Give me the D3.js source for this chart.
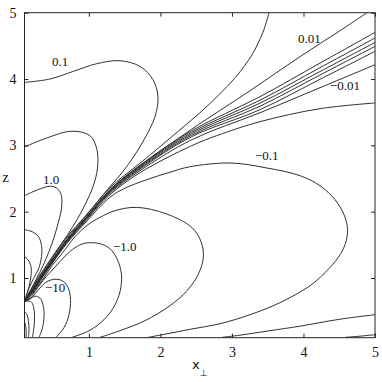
<!DOCTYPE html>
<html><head><meta charset="utf-8">
<script src="https://cdn.jsdelivr.net/npm/d3@7"></script>
<style>body{margin:0;background:#fff}svg{display:block}</style>
</head><body>
<svg id="chart" width="382" height="382"></svg>
<script>
// ---- data (x_perp, z) ----
const xTicks = [1, 2, 3, 4, 5];
const zTicks = [1, 2, 3, 4, 5];
const xDomain = [0.1, 5];
const zDomain = [0.1, 5];

// positive contours
const pos0p01 = [[0.1,0.647],[0.219,0.835],[0.359,1.065],[0.512,1.299],[0.69,1.57],[0.97,1.925],[1.295,2.332],[1.715,2.693],[2.438,3.244],[3.253,3.824],[3.952,4.337],[4.511,4.729],[4.889,5.0]];
const pos0p05 = [[0.1,0.647],[0.215,0.839],[0.354,1.073],[0.505,1.306],[0.68,1.578],[0.96,1.932],[1.281,2.347],[1.715,2.731],[1.994,2.98],[2.274,3.236],[2.554,3.492],[2.805,3.749],[3.057,4.035],[3.281,4.367],[3.435,4.71],[3.518,5.0]];
const pos0p1 = [[0.1,3.949],[0.456,4.0],[0.782,4.115],[1.109,4.231],[1.435,4.276],[1.715,4.19],[1.896,3.99],[1.966,3.738],[1.924,3.432],[1.771,3.085],[1.617,2.814],[1.463,2.588],[1.295,2.377],[0.96,1.947],[0.673,1.593],[0.498,1.317],[0.349,1.083],[0.21,0.845],[0.1,0.647]];
const pos0p3 = [[0.1,2.975],[0.41,3.111],[0.764,3.213],[1.016,3.146],[1.113,2.935],[1.121,2.663],[1.058,2.377],[0.96,2.136],[0.834,1.879],[0.694,1.638],[0.526,1.382],[0.366,1.126],[0.219,0.884],[0.1,0.647]];
const pos1 = [[0.1,2.241],[0.219,2.301],[0.345,2.354],[0.456,2.384],[0.54,2.362],[0.603,2.286],[0.624,2.166],[0.61,2.0],[0.568,1.819],[0.512,1.608],[0.442,1.397],[0.359,1.186],[0.261,0.975],[0.184,0.809],[0.1,0.647]];
const pos3 = [[0.1,1.729],[0.205,1.699],[0.296,1.623],[0.338,1.487],[0.338,1.322],[0.303,1.156],[0.226,0.99],[0.156,0.831],[0.1,0.647]];
const pos10 = [[0.1,1.32],[0.149,1.276],[0.191,1.17],[0.191,1.03],[0.163,0.87],[0.128,0.73],[0.1,0.647]];

// near-zero bundle
const bundle1 = [[0.1,0.647],[0.226,0.828],[0.363,1.061],[0.512,1.291],[0.69,1.563],[0.97,1.914],[1.295,2.332],[1.715,2.701],[2.438,3.221],[3.392,3.734],[4.231,4.24],[5.0,4.703]];
const bundle2 = [[0.1,0.647],[0.226,0.828],[0.363,1.061],[0.512,1.291],[0.69,1.563],[0.97,1.914],[1.295,2.324],[1.715,2.686],[2.438,3.198],[3.392,3.681],[4.231,4.171],[5.0,4.619]];
const bundle3 = [[0.1,0.647],[0.226,0.828],[0.363,1.061],[0.512,1.291],[0.69,1.563],[0.97,1.914],[1.295,2.317],[1.715,2.671],[2.438,3.176],[3.392,3.636],[4.231,4.113],[5.0,4.552]];
const bundle4 = [[0.1,0.647],[0.226,0.828],[0.363,1.061],[0.512,1.291],[0.69,1.563],[0.97,1.914],[1.295,2.306],[1.715,2.656],[2.438,3.153],[3.392,3.59],[4.231,4.061],[5.0,4.492]];
const bundle5 = [[0.1,0.647],[0.226,0.828],[0.363,1.061],[0.512,1.291],[0.69,1.563],[0.97,1.914],[1.295,2.294],[1.715,2.641],[2.438,3.131],[3.392,3.538],[4.231,3.996],[5.0,4.417]];

// negative contours
const neg0p01 = [[0.1,0.647],[0.226,0.818],[0.363,1.046],[0.512,1.275],[0.69,1.543],[0.97,1.894],[1.295,2.279],[1.715,2.618],[2.438,3.085],[3.392,3.492],[4.231,3.869],[5.0,4.216]];
const neg0p05 = [[0.1,0.647],[0.226,0.812],[0.363,1.038],[0.512,1.265],[0.69,1.532],[0.97,1.879],[1.295,2.256],[1.715,2.588],[2.438,2.995],[2.787,3.146],[3.392,3.357],[4.231,3.553],[5.0,3.639]];
const neg0p1 = [[0.1,0.647],[0.233,0.809],[0.363,1.027],[0.69,1.517],[0.97,1.857],[1.295,2.218],[1.505,2.354],[1.808,2.482],[2.134,2.595],[2.414,2.678],[2.987,2.734],[3.486,2.659],[3.952,2.543],[4.231,2.392],[4.441,2.181],[4.567,1.955],[4.616,1.729],[4.581,1.502],[4.483,1.306],[4.301,1.08],[4.092,0.884],[3.672,0.628],[3.253,0.447],[2.833,0.311],[2.428,0.229],[2.064,0.153],[1.827,0.105]];
const neg0p3 = [[0.1,0.647],[0.219,0.771],[0.345,0.96],[0.484,1.186],[0.624,1.367],[0.806,1.623],[0.988,1.804],[1.155,1.914],[1.365,2.015],[1.669,2.065],[2.088,1.965],[2.438,1.763],[2.568,1.548],[2.6,1.306],[2.526,1.05],[2.372,0.809],[2.134,0.583],[1.785,0.357],[1.435,0.206],[1.155,0.105]];
const neg1 = [[0.1,0.647],[0.191,0.719],[0.289,0.861],[0.401,1.02],[0.526,1.163],[0.666,1.329],[0.806,1.457],[0.946,1.525],[1.155,1.517],[1.295,1.442],[1.393,1.291],[1.456,1.05],[1.435,0.794],[1.351,0.568],[1.211,0.372],[1.016,0.213],[0.764,0.105]];
const neg10 = [[0.1,0.647],[0.191,0.696],[0.289,0.816],[0.401,0.937],[0.526,0.982],[0.638,0.952],[0.715,0.839],[0.743,0.673],[0.722,0.447],[0.652,0.251],[0.54,0.105]];
const neg30 = [[0.1,0.647],[0.17,0.681],[0.247,0.726],[0.317,0.696],[0.359,0.598],[0.373,0.417],[0.345,0.221],[0.303,0.105]];
const neg100 = [[0.1,0.647],[0.142,0.651],[0.191,0.643],[0.226,0.568],[0.24,0.432],[0.233,0.266],[0.212,0.105]];
const lowA = [[0.1,0.497],[0.135,0.447],[0.156,0.342],[0.163,0.221],[0.156,0.105]];
const lowB = [[0.1,0.342],[0.118,0.266],[0.124,0.191],[0.121,0.105]];
const bottom1 = [[2.861,0.105],[3.113,0.138],[3.532,0.206],[3.952,0.274],[4.511,0.379],[5.0,0.447]];
const bottom2 = [[4.581,0.105],[4.791,0.123],[5.0,0.145]];

// contour labels: text and anchor (x, z) in data units
const labelText = ["0.1", "1.0", "0.01", "\u22120.01", "\u22120.1", "\u22121.0", "\u221210"];
const labelX = [0.484, 0.359, 3.924, 4.371, 3.323, 1.337, 0.387];
const labelZ = [4.19, 2.422, 4.548, 3.839, 2.784, 1.412, 0.794];

const contours = [pos0p01, pos0p05, pos0p1, pos0p3, pos1, pos3, pos10,
  bundle1, bundle2, bundle3, bundle4, bundle5,
  neg0p01, neg0p05, neg0p1, neg0p3, neg1, neg10, neg30, neg100,
  lowA, lowB, bottom1, bottom2];

// ---- drawing ----
const serif = "'Liberation Serif', 'Times New Roman', 'DejaVu Serif', serif";
const svg = d3.select("#chart");
const L = 24.5, R = 375, T = 12.7, B = 337.7;
const x = d3.scaleLinear().domain(xDomain).range([L, R]);
const y = d3.scaleLinear().domain(zDomain).range([B, T]);

svg.append("defs").append("clipPath").attr("id", "clip")
  .append("rect").attr("x", L).attr("y", T).attr("width", R - L).attr("height", B - T);

const line = d3.line().x(d => x(d[0])).y(d => y(d[1])).curve(d3.curveCatmullRom.alpha(0.5));

svg.append("g").attr("clip-path", "url(#clip)")
  .selectAll("path").data(contours).join("path")
  .attr("d", line).attr("fill", "none")
  .attr("stroke", "#303030").attr("stroke-width", 1);

// axes (box with inward ticks)
const tickLen = 4;
const axStyle = g => { g.select(".domain").remove(); g.selectAll("line").attr("stroke", "#222"); };
const txtStyle = g => g.selectAll("text").style("font-family", serif).style("font-size", "14px").attr("fill", "#111");
svg.append("g").attr("transform", `translate(0,${B})`)
  .call(d3.axisBottom(x).tickValues(xTicks).tickSize(-tickLen).tickPadding(9).tickFormat(d3.format("d")))
  .call(axStyle).call(txtStyle);
svg.append("g").attr("transform", `translate(0,${T})`)
  .call(d3.axisTop(x).tickValues(xTicks).tickSize(-tickLen).tickFormat(""))
  .call(axStyle);
svg.append("g").attr("transform", `translate(${L},0)`)
  .call(d3.axisLeft(y).tickValues(zTicks).tickSize(-tickLen).tickPadding(8).tickFormat(d3.format("d")))
  .call(axStyle).call(txtStyle);
svg.append("g").attr("transform", `translate(${R},0)`)
  .call(d3.axisRight(y).tickValues(zTicks).tickSize(-tickLen).tickFormat(""))
  .call(axStyle);

svg.append("rect").attr("x", L).attr("y", T).attr("width", R - L).attr("height", B - T)
  .attr("fill", "none").attr("stroke", "#222").attr("stroke-width", 1);

// contour labels
svg.append("g").selectAll("text").data(labelText).join("text")
  .attr("x", (d, i) => x(labelX[i])).attr("y", (d, i) => y(labelZ[i]))
  .style("font-family", serif).style("font-size", "13px").attr("fill", "#111")
  .text(d => d);

// axis titles
svg.append("text").attr("x", 5.5).attr("y", 182).attr("text-anchor", "middle")
  .style("font-family", serif).style("font-size", "15px").attr("fill", "#111").text("z");
const xt = svg.append("text").attr("x", (L + R) / 2).attr("y", 369).attr("text-anchor", "middle")
  .style("font-family", "'DejaVu Sans', sans-serif").style("font-size", "13px").attr("fill", "#111");
xt.append("tspan").text("x");
xt.append("tspan").attr("dy", 7).style("font-size", "9px").text("\u22a5");
</script>
</body></html>
